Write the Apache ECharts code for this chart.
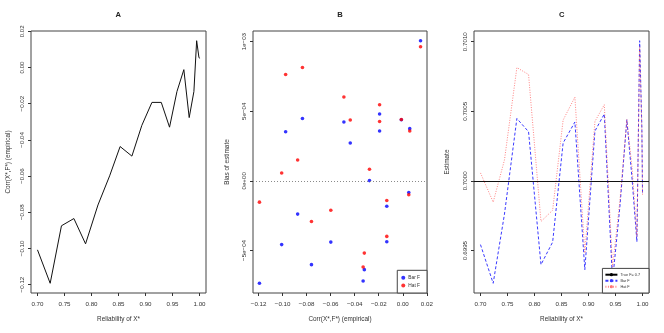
<!DOCTYPE html>
<html>
<head>
<meta charset="utf-8">
<script src="https://cdn.jsdelivr.net/npm/echarts@6/dist/echarts.min.js"></script>
<style>
  html, body { margin: 0; padding: 0; background: #fff; }
  #chart { width: 664px; height: 333px; }
</style>
</head>
<body>
<div id="chart"></div>
<script>
// reliability of X* for each simulation setting
const reliability = [0.700, 0.7235, 0.7444, 0.7674, 0.789, 0.812, 0.8336, 0.853, 0.8748, 0.8932,
  0.9119, 0.9292, 0.9445, 0.9582, 0.9710, 0.9809, 0.9896, 0.9947, 0.9988, 1.000]
// empirical Corr(X*, F*)
const corrEmp = [-0.1008, -0.1193, -0.0875, -0.0835, -0.0975, -0.0760, -0.0599, -0.0437, -0.0490, -0.0320,
  -0.0193, -0.0193, -0.0330, -0.0133, -0.0012, -0.0277, -0.0133, 0.0148, 0.0058, 0.0050]
// bias of the two estimators
const biasBar = [-4.58e-4, -7.36e-4, -2.39e-4, 4.48e-4, 3.53e-4, -6.02e-4, -4.40e-4, 2.72e-4, 4.23e-4, -6.38e-4,
  3.58e-4, 4.80e-4, -7.19e-4, -1.82e-4, 4.39e-4, 0.02e-4, -4.37e-4, 10.07e-4, 3.75e-4, -0.84e-4]
const biasHat = [0.57e-4, -1.53e-4, 1.50e-4, 8.14e-4, 7.64e-4, -2.92e-4, -2.11e-4, 4.37e-4, 6.02e-4, -5.19e-4,
  4.27e-4, 5.47e-4, -6.19e-4, -1.41e-4, 4.41e-4, 0.83e-4, -3.99e-4, 9.64e-4, 3.58e-4, -1.00e-4]
const trueF = 0.7

// tick labels
const relTicks = [0.70, 0.75, 0.80, 0.85, 0.90, 0.95, 1.00]
const corrTicks = [-0.12, -0.10, -0.08, -0.06, -0.04, -0.02, 0.00, 0.02]
const biasTicks = [-5e-4, 0, 5e-4, 1e-3]
const biasTickLabels = ['\u22125e\u221204', '0e+00', '5e\u221204', '1e\u221203']
const estTicks = [0.6995, 0.7000, 0.7005, 0.7010]

const estBar = biasBar.map(b => trueF + b)
const estHat = biasHat.map(b => trueF + b)

// R style axis range: data range padded by 4% each side
const padded = (...arrs) => {
  const all = [].concat(...arrs)
  const lo = Math.min(...all), hi = Math.max(...all)
  const d = (hi - lo) * 0.04
  return [lo - d, hi + d]
}

const relRange = padded(reliability)
const corrRange = padded(corrEmp)
const biasRange = padded(biasBar, biasHat)
const estRange = padded(estBar, estHat)

const FONT = '"Liberation Sans", Arial, sans-serif'
const INK = '#333'
const fmt2 = v => v.toFixed(2).replace('-', '\u2212')

const xAxisBase = (idx, range, ticks, formatter, name) => ({
  type: 'value', gridIndex: idx, min: range[0], max: range[1],
  name: name, nameLocation: 'middle', nameGap: 23,
  nameTextStyle: { fontFamily: FONT, fontSize: 6.4, color: INK },
  axisLine: { show: false, onZero: false },
  axisTick: { show: true, customValues: ticks, length: 3, lineStyle: { color: INK } },
  axisLabel: { customValues: ticks, formatter: formatter, margin: 8, fontFamily: FONT, fontSize: 6.2, color: INK },
  splitLine: { show: false }
})

const yAxisBase = (idx, range, ticks, formatter, name, gap) => ({
  type: 'value', gridIndex: idx, min: range[0], max: range[1],
  name: name, nameLocation: 'middle', nameGap: gap, nameRotate: 90,
  nameTextStyle: { fontFamily: FONT, fontSize: 6.4, color: INK },
  axisLine: { show: false, onZero: false },
  axisTick: { show: true, customValues: ticks, length: 3, lineStyle: { color: INK } },
  axisLabel: { customValues: ticks, formatter: formatter, rotate: 90, margin: 6, fontFamily: FONT, fontSize: 6.2, color: INK },
  splitLine: { show: false }
})

const gridBase = (left, width) => ({
  left: left, top: 31, width: width, height: 262,
  show: true, borderColor: '#444', borderWidth: 1, backgroundColor: 'transparent',
  containLabel: false, outerBoundsMode: 'none'
})

const legendNames = { 'True F': 'True F= 0.7', 'Bar F C': 'Bar F', 'Hat F C': 'Hat F' }

const chart = echarts.init(document.getElementById('chart'), null, { renderer: 'canvas' })

const option = {
  animation: false,
  backgroundColor: '#fff',
  title: [
    { text: 'A', left: 115.5, top: 11, padding: 0, textStyle: { fontFamily: FONT, fontSize: 7.6, fontWeight: 'bold', color: '#222' } },
    { text: 'B', left: 337.3, top: 11, padding: 0, textStyle: { fontFamily: FONT, fontSize: 7.6, fontWeight: 'bold', color: '#222' } },
    { text: 'C', left: 559, top: 11, padding: 0, textStyle: { fontFamily: FONT, fontSize: 7.6, fontWeight: 'bold', color: '#222' } }
  ],
  grid: [gridBase(31, 175), gridBase(253, 174), gridBase(474, 175)],
  xAxis: [
    xAxisBase(0, relRange, relTicks, v => v.toFixed(2), 'Reliability of X*'),
    xAxisBase(1, corrRange, corrTicks, fmt2, 'Corr(X*,F*) (empirical)'),
    xAxisBase(2, relRange, relTicks, v => v.toFixed(2), 'Reliability of X*')
  ],
  yAxis: [
    yAxisBase(0, corrRange, corrTicks, fmt2, 'Corr(X*,F*) (empirical)', 20),
    yAxisBase(1, biasRange, biasTicks, v => biasTickLabels[biasTicks.findIndex(t => Math.abs(t - v) < 1e-9)], 'Bias of estimate', 23),
    yAxisBase(2, estRange, estTicks, v => v.toFixed(4), 'Estimate', 24)
  ],
  legend: [
    {
      data: ['Bar F', 'Hat F'], orient: 'vertical', right: 237, bottom: 40,
      icon: 'circle', itemWidth: 4, itemHeight: 4, itemGap: 1.7,
      padding: [4.5, 7, 4.5, 4], borderColor: '#444', borderWidth: 1, borderRadius: 0,
      selectedMode: false, backgroundColor: '#fff',
      textStyle: { fontFamily: FONT, fontSize: 4.8, lineHeight: 6, color: INK, padding: [0, 0, 0, -2] }
    },
    {
      data: ['True F', 'Bar F C', 'Hat F C'], orient: 'vertical', right: 15, bottom: 40,
      itemWidth: 12, itemHeight: 4, itemGap: 1.4,
      padding: [4, 9, 4, 2], borderColor: '#444', borderWidth: 1, borderRadius: 0,
      selectedMode: false, backgroundColor: '#fff',
      formatter: n => legendNames[n],
      textStyle: { fontFamily: FONT, fontSize: 3.8, lineHeight: 4.6, color: INK, padding: [0, 0, 0, -2] }
    }
  ],
  series: [
    {
      name: 'corr', type: 'line', xAxisIndex: 0, yAxisIndex: 0,
      data: reliability.map((r, i) => [r, corrEmp[i]]),
      symbol: 'none', lineStyle: { color: '#111', width: 1 }
    },
    {
      name: 'Bar F', type: 'scatter', xAxisIndex: 1, yAxisIndex: 1,
      data: corrEmp.map((c, i) => [c, biasBar[i]]),
      symbolSize: 3.6, itemStyle: { color: '#0000ff' },
      markLine: {
        silent: true, symbol: 'none', label: { show: false },
        lineStyle: { color: '#8a8a8a', type: [1, 2], width: 1 },
        data: [{ yAxis: 0 }]
      }
    },
    {
      name: 'Hat F', type: 'scatter', xAxisIndex: 1, yAxisIndex: 1,
      data: corrEmp.map((c, i) => [c, biasHat[i]]),
      symbolSize: 3.6, itemStyle: { color: '#ff0000' }
    },
    {
      name: 'Bar F C', type: 'line', xAxisIndex: 2, yAxisIndex: 2,
      data: reliability.map((r, i) => [r, estBar[i]]),
      symbol: 'none', color: '#3a3aff',
      lineStyle: { color: '#3a3aff', width: 1, type: [3, 2] }
    },
    {
      name: 'Hat F C', type: 'line', xAxisIndex: 2, yAxisIndex: 2,
      data: reliability.map((r, i) => [r, estHat[i]]),
      symbol: 'none', color: 'rgba(255,80,80,0.7)',
      lineStyle: { color: 'rgba(255,80,80,0.7)', width: 1, type: [1, 1.5] }
    },
    {
      name: 'True F', type: 'line', xAxisIndex: 2, yAxisIndex: 2,
      data: [], symbol: 'none', color: '#000',
      lineStyle: { color: '#000', width: 1 },
      markLine: {
        silent: true, symbol: 'none', label: { show: false },
        lineStyle: { color: '#111', type: 'solid', width: 1 },
        data: [{ yAxis: trueF }]
      }
    }
  ]
}

chart.setOption(option)
</script>
</body>
</html>
